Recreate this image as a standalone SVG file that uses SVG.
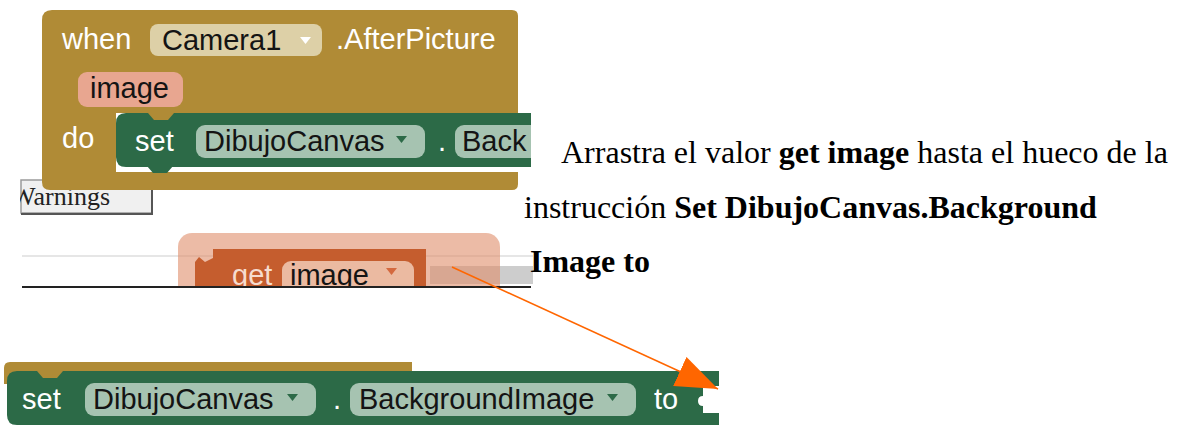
<svg xmlns="http://www.w3.org/2000/svg" width="1180" height="428" viewBox="0 0 1180 428">
<defs>
  <style>
    .blk { font-family: "Liberation Sans", Arial, sans-serif; font-size: 29px; }
    .lbl { fill: #ffffff; }
    .fld { fill: #141414; }
    .gold { fill: #B08B36; }
    .green { fill: #2C6A47; }
    .gfield { fill: #A6C3B1; }
    .gtri { fill: #2C6A47; }
    .note { font-family: "Liberation Serif", "Times New Roman", serif; font-size: 32px; fill: #000000; }
    .b { font-weight: bold; }
  </style>
  <marker id="arrow" markerUnits="userSpaceOnUse" markerWidth="44" markerHeight="34" refX="42" refY="16" orient="auto">
    <path d="M0,0 L42,16 L0,32 Z" fill="#FF6600"/>
  </marker>
  <clipPath id="paneClip"><rect x="20" y="220" width="520" height="66"/></clipPath>
  <clipPath id="topClip"><rect x="0" y="0" width="531" height="200"/></clipPath>
  <clipPath id="leftClip"><rect x="20" y="170" width="200" height="60"/></clipPath>
</defs>
<rect width="1180" height="428" fill="#ffffff"/>

<!-- workspace chrome: warnings button, rulers and scrollbar -->
<g id="workspace">
  <g clip-path="url(#leftClip)">
    <rect x="21" y="180" width="131" height="33" fill="#F0F0F0" stroke="#9A9A9A" stroke-width="1.5"/>
    <path d="M152,180 V214 H21" fill="none" stroke="#555555" stroke-width="2"/>
    <text x="11" y="205" font-family="Liberation Serif, serif" font-size="26" fill="#222222">Warnings</text>
  </g>
  <rect x="22" y="255" width="511" height="2" fill="#E6E6E6"/>
  <rect x="430" y="266" width="103" height="18" fill="#CDCDCD"/>
  <rect x="22" y="286" width="509" height="2" fill="#222222"/>
</g>

<!-- event block: when Camera1.AfterPicture -->
<g id="event-block" class="blk" clip-path="url(#topClip)">
  <path class="gold" d="M52,10 H512 Q518,10 518,16 V184 Q518,190 512,190 H50 Q42,190 42,182 V20 Q42,10 52,10 Z"/>
  <rect x="116" y="113" width="415" height="59" fill="#ffffff"/>
  <text class="lbl" x="62" y="49">when</text>
  <rect x="150" y="24" width="172" height="32" rx="8" fill="#DDD0A7"/>
  <text class="fld" x="162" y="50">Camera1</text>
  <polygon points="300,37 311,37 305.5,44" fill="#ffffff"/>
  <text class="lbl" x="336" y="49">.AfterPicture</text>
  <rect x="78" y="72" width="105" height="35" rx="9" fill="#E8A690"/>
  <text class="fld" x="90" y="98">image</text>
  <text class="lbl" x="62" y="148">do</text>

  <!-- statement: set DibujoCanvas.Back… -->
  <g id="set-inner">
    <path class="green" d="M126,113 H531 V167 H126 Q116,167 116,157 V123 Q116,113 126,113 Z"/>
    <polygon class="green" points="147,166 173,166 167,173 153,173"/>
    <polygon class="gold" points="148,113 174,113 168,120 154,120"/>
    <text class="lbl" x="135" y="151">set</text>
    <rect class="gfield" x="196" y="125" width="229" height="33" rx="9"/>
    <text class="fld" x="204" y="151">DibujoCanvas</text>
    <polygon class="gtri" points="396,136 407,136 401.5,143"/>
    <text class="lbl" x="438" y="151">.</text>
    <rect class="gfield" x="455" y="125" width="100" height="33" rx="9"/>
    <text class="fld" x="462" y="151">Back</text>
  </g>
</g>

<!-- dragged value: get image -->
<g id="get-image" class="blk" clip-path="url(#paneClip)">
  <rect x="178" y="233" width="322" height="80" rx="14" fill="#DF8E6B" fill-opacity="0.6"/>
  <path d="M213,249 H426 V300 H195 V262 L199,257 L205,262 L213,258 Z" fill="#C55D2E"/>
  <text x="232" y="285" fill="#F6DCCF">get</text>
  <rect x="282" y="261" width="132" height="40" rx="9" fill="#EBBAA1"/>
  <text class="fld" x="290" y="285">image</text>
  <polygon points="386,268 397,268 391.5,275" fill="#D4693F"/>
</g>

<!-- drop target: set DibujoCanvas.BackgroundImage to -->
<g id="set-target" class="blk">
  <path class="gold" d="M10,362 H412 V384 H4 V368 Q4,362 10,362 Z"/>
  <path class="green" d="M17,371 H719 V386 H703 V396 Q698,396 698,401 Q698,406 703,406 V413 H719 V425 H17 Q7,425 7,415 V381 Q7,371 17,371 Z"/>
  <polygon class="gold" points="37,371 63,371 57,378 43,378"/>
  <text class="lbl" x="22" y="409">set</text>
  <rect class="gfield" x="85" y="383" width="231" height="33" rx="9"/>
  <text class="fld" x="93" y="409">DibujoCanvas</text>
  <polygon class="gtri" points="287,394 298,394 292.5,401"/>
  <text class="lbl" x="333" y="409">.</text>
  <rect class="gfield" x="350" y="383" width="286" height="33" rx="9"/>
  <text class="fld" x="359" y="409">BackgroundImage</text>
  <polygon class="gtri" points="607,394 618,394 612.5,401"/>
  <text class="lbl" x="654" y="409">to</text>
</g>

<!-- connectors -->
<g id="connectors">
  <line x1="452" y1="267" x2="718" y2="389" stroke="#FF6600" stroke-width="1.5" marker-end="url(#arrow)"/>
</g>

<!-- instruction text -->
<g id="instructions" class="note">
  <text x="561" y="163">Arrastra el valor <tspan class="b">get image</tspan> hasta el hueco de la</text>
  <text x="524" y="218">instrucción <tspan class="b">Set DibujoCanvas.Background</tspan></text>
  <text x="530" y="272" class="b">Image to</text>
</g>
</svg>
